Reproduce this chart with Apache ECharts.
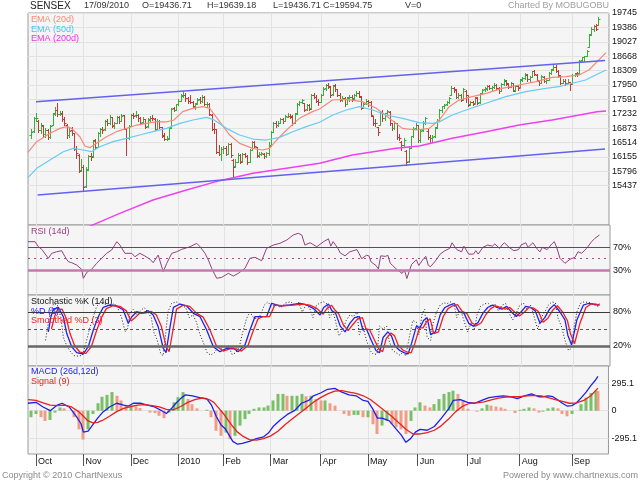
<!DOCTYPE html>
<html><head><meta charset="utf-8">
<script src="https://cdn.jsdelivr.net/npm/echarts@6/dist/echarts.min.js"></script>
<style>html,body{margin:0;padding:0;background:#fff}#c{width:640px;height:480px}</style>
</head><body><div id="c"></div>
<script>
// ---- DATA ----
// daily bars [open, high, low, close], index 0 = 29 Sep 2009 ... 239 = 17 Sep 2010
const priceBars = [
[16700,16850,16640,16780],[16800,17150,16780,17127],[17130,17240,17050,17134],[17050,17080,16780,16823],[16830,17000,16750,16934],
[16940,16960,16680,16715],[16720,16880,16660,16826],[16820,16850,16600,16643],[16650,16950,16640,16930],[16950,17250,16940,17231],
[17240,17400,17200,17326],[17330,17490,17180,17224],[17230,17300,17200,17231],[17240,17300,17060,17100],[17100,17150,16950,17010],
[16950,16980,16620,16692],[16700,16890,16650,16810],[16820,16900,16700,16741],[16740,16760,16320,16354],[16360,16420,16140,16250],
[16200,16220,15780,15805],[15830,16100,15800,15896],[15900,15950,15330,15405],[15420,15900,15400,15842],[15850,16200,15830,16181],
[16190,16260,16080,16158],[16170,16590,16150,16564],[16570,16600,16350,16399],[16410,16780,16400,16745],[16750,16880,16690,16849],
[16840,16900,16760,16830],[16840,17080,16830,17061],[17060,17110,16950,16998],[17000,17200,16980,17150],[17150,17160,16900,16934],
[16940,17030,16880,16997],[17000,17180,16990,17140],[17140,17170,17000,17050],[17060,17220,17040,17186],[17190,17200,16850,16876],
[16850,16860,16200,16632],[16640,16950,16600,16926],[16930,17230,16920,17198],[17200,17260,17130,17185],[17190,17290,17150,17210],
[17200,17230,17050,17119],[17120,17140,16970,17012],[17020,17150,17000,17108],[17100,17110,16880,16910],[16920,17120,16900,17083],
[17090,17170,17050,17119],[17120,17200,17080,17116],[17110,17130,16830,16858],[16860,17090,16850,17063],[17060,17070,16870,16898],
[16890,16910,16650,16692],[16690,16750,16580,16601],[16600,16680,16580,16615],[16620,16900,16610,16880],[16890,17380,16880,17360],
[17370,17410,17290,17326],[17330,17480,17320,17465],[17470,17600,17450,17559],[17560,17720,17550,17686],[17690,17790,17650,17701],
[17700,17740,17560,17615],[17620,17660,17490,17540],[17550,17690,17500,17526],[17530,17560,17390,17423],[17400,17510,17340,17482],
[17490,17620,17470,17583],[17590,17640,17490,17550],[17550,17700,17530,17655],[17650,17670,17440,17475],[17480,17520,17400,17486],
[17480,17500,17200,17220],[17200,17230,16830,16859],[16860,16990,16760,16840],[16850,16860,16250,16289],[16290,16450,16210,16237],
[16240,16400,16090,16358],[16360,16440,16260,16384],[16380,16420,16200,16237],[16240,16500,16230,16485],[16480,16500,16150,16192],
[16080,16100,15651,15916],[15920,16100,15900,16039],[16040,16250,16030,16213],[16210,16220,16000,16039],[16050,16250,16040,16228],
[16230,16260,16150,16190],[16180,16200,15990,16038],[16040,16350,16030,16327],[16330,16560,16320,16535],[16530,16560,16400,16427],
[16400,16410,16160,16191],[16200,16280,16150,16224],[16230,16290,16200,16250],[16240,16260,16130,16170],[16170,16290,16150,16255],
[16260,16540,16200,16430],[16450,16800,16440,16772],[16780,17030,16770,17000],[17000,17050,16900,16945],[16950,17040,16920,16994],
[17000,17130,16990,17102],[17110,17130,16990,17051],[17060,17200,17040,17168],[17160,17240,17140,17171],[17180,17230,17130,17164],
[17160,17190,16960,17003],[17010,17260,17000,17234],[17240,17490,17230,17467],[17470,17560,17450,17520],[17520,17600,17500,17578],
[17500,17510,17300,17334],[17340,17480,17320,17450],[17450,17480,17320,17361],[17370,17730,17360,17711],[17710,17750,17620,17645],
[17650,17700,17520,17557],[17560,17590,17460,17528],[17530,17720,17520,17693],[17700,17900,17690,17862],[17870,17970,17820,17941],
[17940,17990,17880,17930],[17900,17920,17660,17711],[17720,17960,17700,17933],[17940,17970,17810,17855],[17840,17860,17670,17697],
[17700,17740,17550,17584],[17590,17670,17540,17634],[17620,17640,17430,17475],[17480,17650,17470,17630],[17640,17700,17560,17661],
[17650,17690,17560,17610],[17620,17720,17590,17700],[17710,17800,17670,17747],[17750,17790,17640,17681],[17660,17680,17350,17381],
[17390,17520,17370,17481],[17490,17610,17470,17559],[17560,17580,17430,17536],[17530,17540,17170,17202],[17170,17180,16950,16999],
[17000,17100,16930,16995],[16900,16900,16700,16770],[16950,17300,16940,17285],[17280,17320,17050,17123],[17120,17260,17070,17241],
[17250,17320,17220,17290],[17280,17290,16960,16995],[16990,17010,16820,16878],[16880,17050,16860,16997],[16990,17000,16610,16649],
[16650,16720,16580,16640],[16520,16560,16330,16445],[16460,16640,16440,16589],[16300,16330,15960,16022],[16050,16420,16040,16386],
[16390,16690,16380,16666],[16670,16900,16660,16864],[16870,16990,16850,16945],[16940,16960,16540,16572],[16570,16830,16530,16811],
[16820,17050,16810,16991],[16990,17140,16980,17119],[16800,16840,16610,16664],[16660,16700,16520,16617],[16630,16700,16540,16657],
[16670,16900,16660,16877],[16890,17090,16880,17065],[17070,17340,17060,17315],[17320,17430,17280,17414],[17420,17480,17380,17461],
[17470,17560,17440,17527],[17530,17640,17490,17614],[17700,17920,17690,17877],[17880,17910,17780,17847],[17830,17850,17620,17640],
[17650,17740,17620,17709],[17700,17720,17540,17574],[17590,17880,17580,17843],[17800,17820,17520,17701],[17690,17710,17430,17460],
[17470,17560,17440,17534],[17520,17560,17440,17480],[17500,17660,17490,17638],[17620,17640,17470,17500],[17520,17760,17510,17731],
[17740,17860,17720,17835],[17840,17890,17790,17863],[17860,17940,17830,17919],[17920,17960,17840,17883],[17870,17920,17820,17889],
[17900,17990,17880,17955],[17950,17970,17850,17878],[17880,17900,17760,17800],[17810,17990,17800,17962],[17970,18090,17950,18065],
[18060,18080,17950,17984],[17990,18010,17870,17905],[17910,18030,17890,18004],[18000,18010,17790,17812],[17820,17950,17790,17920],
[17920,17940,17820,17868],[17900,18100,17890,18081],[18090,18140,18040,18114],[18120,18240,18100,18217],[18210,18230,18060,18093],
[18100,18180,18060,18143],[18150,18300,18140,18287],[18290,18320,18190,18219],[18210,18220,18040,18070],[18050,18080,17950,17998],
[18010,18190,18000,18167],[18160,18170,18020,18051],[18050,18120,17990,18073],[18080,18280,18070,18257],[18260,18350,18230,18330],
[18340,18475,18320,18401],[18410,18440,18280,18311],[18300,18330,18160,18194],[18180,18190,17980,17999],[18010,18110,17990,18053],
[18060,18090,17950,17998],[18010,18100,18000,18032],[18020,18030,17820,17971],[17990,18230,17980,18205],[18210,18260,18180,18221],
[18240,18280,18180,18221],[18250,18580,18240,18560],[18570,18660,18560,18645],[18650,18680,18560,18667],[18680,18820,18670,18799],
[18900,19230,18890,19208],[19210,19390,19200,19347],[19350,19440,19300,19417],[19420,19480,19320,19345],[19436.71,19639.18,19436.71,19594.75]
];
const monthTickIdx = [2,22,42,62,81,101,122,142,163,184,206,228];
const monthTickLabels = ['Oct','Nov','Dec','2010','Feb','Mar','Apr','May','Jun','Jul','Aug','Sep'];
const priceTicks = [19745,19386,19027,18668,18309,17950,17591,17232,16873,16514,16155,15796,15437];
const ema20 = [[-1.37,16270],[2.3,16535],[7.9,16744],[12.1,16868],[14.9,16910],[17,16868],[20.5,16660],[22.6,16428],[24.7,16386],[27.5,16495],[31.7,16660],[35.9,16785],[40.2,16868],[44.4,16951],[48.6,16993],[52.8,17034],[57,17030],[60,17070],[63.8,17285],[68,17368],[72.2,17410],[75.2,17368],[79.4,17034],[83.6,16702],[87.8,16495],[93.3,16370],[97.5,16328],[100.4,16370],[103.4,16577],[107.6,16827],[113,17118],[118.5,17285],[121.5,17350],[126.9,17575],[132.8,17592],[139.5,17534],[145.4,17368],[150.9,17118],[156.4,16868],[162.3,16827],[167.7,16868],[171.9,17076],[176.1,17410],[180.3,17575],[185.8,17659],[191.7,17742],[198.4,17867],[205.6,17950],[212.7,18033],[219.5,18141],[225.3,18158],[230.8,18200],[235,18324],[242.2,18755]];
const ema50 = [[-1.37,15640],[2.3,15871],[7.9,16079],[13.5,16286],[17.7,16370],[21.9,16328],[25.4,16286],[28.9,16411],[34.5,16536],[40.2,16619],[45.7,16702],[51.3,16785],[57,16868],[62.6,16993],[68.2,17076],[73.8,17143],[76.6,17093],[82.2,16868],[87.8,16702],[93.4,16602],[99,16577],[104.6,16644],[110.2,16785],[115.9,16910],[121.5,17020],[127.1,17201],[132.7,17326],[138.3,17410],[143.9,17326],[149.5,17201],[156.5,17118],[163.5,17010],[169.1,16993],[171.9,17030],[177.4,17201],[183.2,17326],[191.6,17493],[200,17659],[208.4,17784],[216.8,17867],[222.4,17909],[228,17992],[233.6,18075],[237.8,18200],[242.2,18324]];
const ema200 = [[24.5,14420],[27.5,14500],[37.3,14749],[51.3,15082],[65.4,15332],[79.4,15564],[93.4,15747],[107.5,15872],[121.5,15997],[135.3,16205],[153.7,16370],[163.5,16428],[177.4,16619],[191.6,16785],[205.6,16951],[219.5,17076],[238.4,17284],[242.2,17300]];
const trendUpper = [[2,17533],[241.8,18560]];
const trendLower = [[2.7,15206],[241.8,16355]];
const rsi14 = [[-1.37,80],[1.6,79.9],[3,71],[4.4,66.5],[7.2,50.6],[8.6,59.4],[10.7,62.2],[12.8,64],[14.2,53.4],[15.6,44.6],[17,42.9],[19.1,38.8],[21.2,31.2],[21.9,15.4],[23.6,27],[25.4,31.2],[27.5,41.8],[29.6,50.6],[31.7,59.4],[33.8,65.2],[36,79.9],[37.3,74],[39.4,59.4],[42.3,59.4],[43.6,53.4],[45.7,59.4],[47.8,54.7],[50,48.9],[51.3,42.9],[53.4,56.4],[55.5,27],[57,41.8],[59.1,59.4],[61.2,62.2],[63.3,66.5],[66.8,71],[69.6,77],[71,71],[73.1,59.4],[74.5,47.6],[75.9,33],[78,15.4],[80.1,17.1],[82.9,24.2],[85,19.4],[87.1,24.2],[89.9,33],[92,50.6],[94.1,52.4],[96.9,46.4],[99,68.2],[101.8,74],[104.6,77],[107.5,82.9],[110.2,91.7],[112.3,94.7],[113.8,91.7],[115.1,74],[117.3,78.1],[120.1,71],[123,80],[125,85],[126,72],[127,80],[129,68],[130,60],[132,55],[134,62],[137,66],[139,50],[141,56],[142,55],[143,44],[145,38],[146,32],[147,55],[149,54],[150,56],[151,42],[152,38],[154,30],[156,24],[157,30],[158,15],[159,28],[160,40],[162,48],[163,38],[165,50],[166,54],[167,38],[168,36],[170,46],[172,58],[174,64],[176,68],[177,78],[179,66],[181,62],[182,72],[184,58],[186,58],[187,64],[188,58],[190,70],[192,74],[194,72],[195,76],[197,68],[198,74],[199,78],[201,70],[203,64],[205,66],[206,74],[208,78],[209,70],[211,78],[213,66],[214,62],[215,70],[217,66],[219,76],[220,80],[221,70],[222.4,50.6],[224.5,41.8],[226.6,48.9],[228.7,52.4],[230,62.2],[231.5,59.4],[233.6,68.2],[235.7,79.9],[237.1,85.9],[239,91.7]];
const rsiLevels = [70,30];
const stochD = [[7.2,45],[8.2,70],[9.3,84.8],[11.4,88.3],[13.5,71.7],[14.9,42.4],[17,18.8],[19.1,8.2],[21.9,5.9],[24,18.8],[26.1,48.2],[28.2,71.7],[30.3,88.3],[33.1,92.4],[36,90.6],[38.7,83.5],[40.8,60],[42.3,71.7],[44.4,80.5],[46.5,77.7],[49.2,82.3],[51.3,74.7],[53.4,54.1],[55.5,16],[56.7,8.2],[58.4,54.1],[59.8,88.3],[62.6,94.1],[65.4,90.6],[68.2,77.7],[71,71.7],[73.8,48.2],[76.6,18.8],[79.4,10],[82.2,16],[85,16],[87.1,10],[89.9,21.8],[92,48.2],[94.1,71.7],[96.2,71.7],[99,71.7],[101.1,95.3],[104.6,90.6],[108.8,92.4],[113,95.3],[115.9,92.4],[118.6,86.5],[121.5,74.7],[123,88],[125,94],[126.5,82],[128,78],[130,55],[132,45],[134,60],[136,70],[138,72],[139.5,48],[141,50],[143,30],[145,12],[146.5,8],[148,35],[150,45],[151.5,38],[153,20],[155,12],[157,8],[158.5,6],[160,25],[162,55],[163.5,52],[165,65],[166.5,70],[168,40],[170,45],[172,75],[174,88],[176,92],[178,95],[180,80],[182,78],[184,60],[186,55],[188,62],[190,78],[192,88],[194,92],[196,88],[198,85],[200,90],[202,80],[204,72],[206,80],[208,90],[210,88],[212,82],[214,60],[216,70],[218,85],[220,93],[222.4,80],[224.5,66],[225.7,39],[227.3,21.8],[229.5,66],[232.2,92],[234.3,95],[236.5,94],[238.4,92],[239,93]];
const stochSD = [[8.5,50],[9.8,72],[11,84],[13,85],[14.8,68],[16.3,42],[18.3,20],[20.5,9],[23,7],[25.3,19],[27.4,46],[29.5,70],[31.6,86],[34.4,91],[37.3,90],[40,82],[42,64],[43.6,70],[45.7,78],[47.8,78],[50.5,81],[52.6,75],[54.7,55],[56.8,18],[58,10],[59.7,50],[61.1,85],[63.9,92],[66.7,90],[69.5,78],[72.3,71],[75.1,49],[77.9,20],[80.7,11],[83.5,15],[86.3,15],[88.4,11],[91.2,21],[93.3,46],[95.4,68],[97.5,72],[100.3,72],[102.4,92],[105.9,91],[110.1,92],[114.3,94],[117.2,92],[119.9,87],[122.8,76],[124.3,86],[126.3,92],[127.8,83],[129.3,77],[131.3,57],[133.3,47],[135.3,58],[137.3,68],[139.3,70],[140.8,50],[142.3,49],[144.3,31],[146.3,14],[147.8,10],[149.3,33],[151.3,43],[152.8,38],[154.3,22],[156.3,13],[158.3,9],[159.8,8],[161.3,24],[163.3,52],[164.8,52],[166.3,63],[167.8,68],[169.3,42],[171.3,45],[173.3,72],[175.3,86],[177.3,91],[179.3,93],[181.3,81],[183.3,77],[185.3,61],[187.3,56],[189.3,61],[191.3,76],[193.3,86],[195.3,91],[197.3,88],[199.3,85],[201.3,88],[203.3,80],[205.3,73],[207.3,79],[209.3,88],[211.3,87],[213.3,81],[215.3,62],[217.3,69],[219.3,83],[221.3,91],[223.5,80],[225.5,65],[226.8,42],[228.5,24],[230.8,60],[233.3,88],[235.5,94],[237.5,94],[239,92]];
const stochK = [[6,30],[7,55],[8,80],[9.5,95],[11,92],[12.5,70],[13.5,35],[15,20],[16.5,10],[18,3],[20,2],[21.5,4],[23,25],[24.5,50],[26,70],[27.5,90],[29,96],[31,94],[33,90],[35,95],[36.5,86],[38,70],[39.5,45],[40.5,50],[41.5,78],[43,85],[44.5,75],[46,82],[47.5,88],[49,80],[50.5,70],[51.5,45],[53,30],[54.5,6],[55.5,3],[56.5,40],[57.5,80],[59,95],[61,98],[63,92],[65,88],[66.5,70],[68,75],[69.5,62],[71,40],[72.5,25],[74,8],[75.5,4],[77,8],[79,20],[81,12],[83,20],[84.5,5],[86,8],[87.5,18],[89,45],[90.5,68],[92,80],[93.5,70],[95,68],[96.5,75],[98,92],[99.5,98],[101,90],[103,92],[105,88],[107,96],[109,98],[111,92],[112.5,97],[114,80],[115.5,92],[117,88],[118.5,70],[120,92],[121.5,96],[123,98],[124.5,94],[125.5,70],[127,80],[128.5,55],[129.5,38],[131,48],[132.5,65],[134,75],[135.5,72],[137,80],[138,40],[139.5,55],[141,30],[142.5,12],[144,5],[145.5,6],[146.5,55],[148,50],[149.5,55],[150.5,30],[152,12],[153.5,8],[155,4],[156.5,10],[157.5,2],[159,35],[160.5,65],[162,62],[163,40],[164.5,78],[165.5,85],[166.5,35],[168,30],[169,60],[170.5,80],[172,92],[173.5,96],[175,95],[176.5,98],[178,90],[179,70],[180.5,85],[182,65],[183.5,45],[185,60],[186.5,50],[187.5,75],[189,90],[190.5,94],[192,96],[193.5,90],[195,94],[196.5,82],[198,92],[199.5,95],[201,78],[202.5,66],[204,78],[205.5,92],[207,96],[208.5,85],[210,92],[211.5,72],[213,50],[214.5,70],[216,80],[217.5,92],[219,98],[220.5,96],[221.5,70],[223,55],[224.5,30],[226,12],[227,15],[228,45],[229.5,80],[231,95],[232.5,98],[234,97],[235.5,96],[237,92],[238.5,90],[239,96]];
const stochLevels = [80,20];
const macdLine = [[-1.37,80],[2,90],[5,40],[8,0],[11,60],[13,80],[16,40],[19,-60],[21,-140],[22,-230],[24,-220],[26,-150],[28,-80],[30,-20],[33,40],[36,80],[39,60],[41,50],[43,80],[46,80],[49,60],[52,40],[55,0],[57,-30],[59,20],[61,80],[63,130],[65,170],[68,160],[71,140],[74,130],[76,60],[78,-60],[80,-150],[82,-200],[85,-330],[87,-360],[89,-350],[92,-330],[95,-300],[98,-280],[100,-240],[102,-170],[105,-100],[108,-40],[111,0],[114,80],[117,110],[119,160],[122,190],[125,230],[128,240],[131,200],[134,170],[137,160],[140,110],[142,100],[144,20],[146,-80],[148,-80],[151,-110],[154,-200],[156,-260],[158,-340],[160,-300],[162,-230],[164,-200],[167,-210],[170,-170],[173,-80],[176,20],[178,110],[181,120],[184,90],[187,80],[190,110],[193,140],[196,150],[199,160],[202,150],[205,130],[208,160],[211,180],[214,150],[216,150],[218,160],[220,150],[222,118],[224,80],[226,50],[228,55],[230,85],[232,140],[234,200],[236,270],[238,330],[239,368]];
const signalLine = [[-1.37,120],[2,110],[5,85],[8,60],[11,55],[14,60],[17,40],[20,-10],[22,-60],[24,-110],[26,-130],[28,-125],[30,-105],[33,-60],[36,-10],[39,25],[42,45],[45,60],[48,65],[51,55],[54,40],[57,15],[60,10],[63,45],[66,90],[69,120],[72,135],[75,120],[77,90],[79,30],[81,-30],[83,-100],[85,-170],[87,-230],[89,-270],[92,-310],[95,-315],[98,-300],[101,-270],[104,-220],[107,-150],[110,-90],[113,-30],[116,30],[119,90],[122,140],[125,180],[128,210],[131,215],[134,200],[137,185],[140,160],[143,120],[146,60],[149,0],[152,-60],[155,-130],[158,-200],[161,-250],[164,-250],[167,-235],[170,-210],[173,-160],[176,-90],[179,-10],[182,50],[185,80],[188,85],[191,95],[194,115],[197,135],[200,145],[203,150],[206,150],[209,160],[212,165],[215,160],[218,140],[221,120],[224,100],[227,80],[230,85],[233,110],[236,160],[239,243]];
const macdHist = [[0,-70],[2,-35],[4,-70],[6,-110],[8,-100],[10,-20],[12,35],[14,25],[16,0],[18,-70],[20,-200],[22,-310],[24,-200],[26,-35],[28,80],[30,150],[32,170],[34,200],[36,160],[38,110],[40,55],[42,55],[44,45],[46,30],[48,0],[50,-20],[52,-25],[54,-55],[56,-80],[58,-20],[60,90],[62,145],[64,200],[66,125],[68,70],[70,25],[72,0],[74,10],[76,-70],[78,-215],[80,-270],[82,-235],[84,-305],[86,-270],[88,-160],[90,-90],[92,-35],[94,20],[96,35],[98,35],[100,55],[102,110],[104,180],[106,180],[108,160],[110,160],[112,160],[114,180],[116,155],[118,160],[120,125],[122,110],[124,110],[126,80],[128,55],[130,0],[132,-35],[134,-55],[136,-45],[138,-45],[140,-70],[142,-70],[144,-145],[146,-250],[148,-160],[150,-110],[152,-145],[154,-180],[156,-200],[158,-250],[160,-110],[162,35],[164,90],[166,55],[168,35],[170,70],[172,125],[174,180],[176,200],[178,215],[180,180],[182,110],[184,20],[186,0],[188,-10],[190,25],[192,65],[194,55],[196,45],[198,35],[200,20],[202,0],[204,-25],[206,10],[208,20],[210,35],[212,25],[214,-20],[216,-10],[218,25],[220,35],[222,25],[224,-35],[226,-60],[228,-35],[230,0],[232,70],[234,140],[236,190],[238,215],[239,210]];
const macdTicks = [295.1, 0, -295.1];

// ---- CHART ----
const FONT = '"Liberation Sans", Arial, sans-serif';
const X_MIN = -1.365, X_MAX = 243.44;
const grids = [
  {left:28, right:30, top:13, height:212},
  {left:28, right:30, top:225, height:70},
  {left:28, right:30, top:295, height:71},
  {left:28, right:30, top:366, height:88}
].map(g => Object.assign({show:true, backgroundColor:'#f5f5f5', borderColor:'#9a9a9a', borderWidth:1}, g));

function xAxis(gi, bottom){
  return {type:'value', gridIndex:gi, min:X_MIN, max:X_MAX,
    axisLine:{show:false, onZero:false},
    axisTick:{show:bottom, customValues:monthTickIdx, length:12, lineStyle:{color:'#555'}},
    axisLabel:{show:bottom, customValues:monthTickIdx, align:'left', padding:[0,0,0,2], margin:3,
      fontSize:9, fontFamily:FONT, color:'#111',
      formatter: v => monthTickLabels[monthTickIdx.indexOf(v)] || ''},
    splitLine:{show:true, lineStyle:{color:'#e2e2e2', width:1}}};
}
function yAxis(gi, min, max, ticks, fmt, split){
  return {type:'value', gridIndex:gi, position:'right', min:min, max:max,
    axisLine:{show:false, onZero:false},
    axisTick:{show:false, customValues:ticks},
    axisLabel:{customValues:ticks, margin:3, fontSize:9, fontFamily:FONT, color:'#111', formatter:fmt},
    splitLine:{show:split, lineStyle:{color:'#e2e2e2', width:1}}};
}
function line(gi, data, color, width, type){
  return {type:'line', xAxisIndex:gi, yAxisIndex:gi, data:data, showSymbol:false, symbol:'none',
    lineStyle:{color:color, width:width||1, type:type||'solid'}, itemStyle:{color:color}, silent:true, z:3};
}

const ohlcSeries = {
  type:'custom', xAxisIndex:0, yAxisIndex:0, silent:true, z:2,
  data: priceBars.map((b,i)=>[i,b[0],b[1],b[2],b[3]]),
  encode:{x:0, y:[1,2,3,4]},
  renderItem(params, api){
    const x=api.value(0), o=api.value(1), h=api.value(2), l=api.value(3), c=api.value(4);
    const pH=api.coord([x,h]), pL=api.coord([x,l]), pO=api.coord([x,o]), pC=api.coord([x,c]);
    const cx=Math.round(pH[0])+0.5;
    const col = c>=o ? '#3aad3a' : '#c03a3a';
    const yo=Math.round(pO[1])+0.5, yc=Math.round(pC[1])+0.5;
    return {type:'group', children:[
      {type:'line', shape:{x1:cx,y1:Math.round(pH[1]),x2:cx,y2:Math.round(pL[1])+1}, style:{stroke:col,lineWidth:1}},
      {type:'line', shape:{x1:cx-2,y1:yo,x2:cx,y2:yo}, style:{stroke:col,lineWidth:1}},
      {type:'line', shape:{x1:cx,y1:yc,x2:cx+2,y2:yc}, style:{stroke:col,lineWidth:1}}
    ]};
  }
};

const histSeries = {
  type:'custom', xAxisIndex:3, yAxisIndex:3, silent:true, z:2,
  data: macdHist.map((d,i)=>[d[0], d[1], i>0 ? macdHist[i-1][1] : d[1]]),
  encode:{x:0, y:1},
  renderItem(params, api){
    const x=api.value(0), v=api.value(1), prev=api.value(2);
    const p0=api.coord([x,0]), p1=api.coord([x,v]);
    const col = v>=prev ? '#78bf66' : '#f09c86';
    return {type:'rect', shape:{x:Math.round(p0[0])-1.5, y:Math.min(p0[1],p1[1]), width:3, height:Math.abs(p1[1]-p0[1])},
      style:{fill:col}};
  }
};

const rsiSeries = line(1, rsi14, '#94407f', 1);
rsiSeries.markLine = {silent:true, symbol:'none', label:{show:false}, animation:false,
  data:[{yAxis:70, lineStyle:{color:'#8a3270', width:1, type:'solid'}},
        {yAxis:50, lineStyle:{color:'#a2508a', width:1, type:[2,4]}},
        {yAxis:30, lineStyle:{color:'#c07aac', width:2.5, type:'solid'}}]};
const kSeries = line(2, stochK, '#222', 1, [1,2]);
kSeries.markLine = {silent:true, symbol:'none', label:{show:false}, animation:false,
  data:[{yAxis:80, lineStyle:{color:'#3a3a3a', width:1, type:'solid'}},
        {yAxis:50, lineStyle:{color:'#555', width:1, type:[3,3]}},
        {yAxis:20, lineStyle:{color:'#666', width:2.5, type:'solid'}}]};

function txt(x, y, s, color, size, align){
  return {type:'text', x:x, y:y, z:100, silent:true,
    style:{text:s, fill:color, font:(size||9)+'px '+FONT, textAlign:align||'left', textVerticalAlign:'middle'}};
}

const option = {
  animation:false,
  backgroundColor:'#ffffff',
  grid: grids,
  xAxis: [xAxis(0,false), xAxis(1,false), xAxis(2,false), xAxis(3,true)],
  yAxis: [
    yAxis(0, 14458, 19745, priceTicks, v=>String(v), true),
    yAxis(1, -14, 109.3, rsiLevels, v=>v+'%', false),
    yAxis(2, -15.3, 110, stochLevels, v=>v+'%', false),
    yAxis(3, -465, 480, macdTicks, v=>String(v), true)
  ],
  series: [
    ohlcSeries,
    line(0, ema20, '#f58a7c', 1.2),
    line(0, ema50, '#66ccf2', 1.2),
    line(0, ema200, '#f040f0', 1.5),
    line(0, trendUpper, '#6262ee', 1.5),
    line(0, trendLower, '#6262ee', 1.5),
    rsiSeries,
    kSeries,
    line(2, stochD, '#2020f0', 1.3),
    line(2, stochSD, '#f02020', 1.3),
    histSeries,
    line(3, macdLine, '#2020e8', 1.3),
    line(3, signalLine, '#e82020', 1.3)
  ],
  graphic: [
    txt(30, 6, 'SENSEX', '#222', 10),
    txt(84, 6, '17/09/2010', '#333'),
    txt(142, 6, 'O=19436.71', '#333'),
    txt(207, 6, 'H=19639.18', '#333'),
    txt(273, 6, 'L=19436.71', '#333'),
    txt(323, 6, 'C=19594.75', '#333'),
    txt(405, 6, 'V=0', '#333'),
    txt(609, 6, 'Charted By MOBUGOBU', '#a0a0a0', 9, 'right'),
    txt(31, 20, 'EMA (20d)', '#f58a7c'),
    txt(31, 29.5, 'EMA (50d)', '#4cc2ee'),
    txt(31, 39, 'EMA (200d)', '#ee30ee'),
    txt(31, 232, 'RSI (14d)', '#94407f'),
    txt(31, 302, 'Stochastic %K (14d)', '#111'),
    txt(31, 311.5, '%D (3)', '#2020f0'),
    txt(31, 321, 'Smoothed %D (3)', '#f02020'),
    txt(31, 372, 'MACD (26d,12d)', '#2020e8'),
    txt(31, 382, 'Signal (9)', '#e82020'),
    txt(2, 476, 'Copyright \u00a9 2010 ChartNexus', '#8a8a8a'),
    txt(638, 476, 'Powered by www.chartnexus.com', '#8a8a8a', 9, 'right')
  ]
};
const chart = echarts.init(document.getElementById('c'), null, {renderer:'canvas'});
chart.setOption(option);
</script></body></html>
